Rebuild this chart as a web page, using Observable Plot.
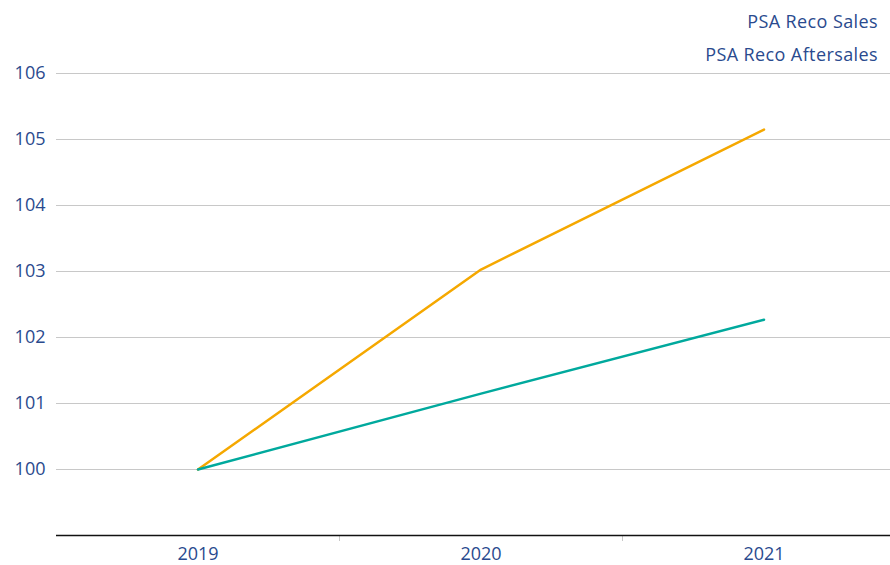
<!DOCTYPE html>
<html>
<head>
<meta charset="utf-8">
<script src="https://cdn.jsdelivr.net/npm/d3@7"></script>
<script src="https://cdn.jsdelivr.net/npm/@observablehq/plot@0.6"></script>
<style>
  html, body { margin: 0; padding: 0; background: #fff; overflow: hidden; }
  #wrap { position: relative; width: 890px; height: 565px; }
  #legend { position: absolute; right: 12px; top: 5px; text-align: right;
    font-family: "Open Sans", sans-serif; font-size: 18px; font-weight: 500; letter-spacing: 0.4px;
    color: #2a4a8e; line-height: 33px; }
</style>
</head>
<body>
<div id="wrap">
  <div id="chart"></div>
  <div id="legend"></div>
</div>
<script>
const years = [2019, 2020, 2021];
const salesValues = [100, 103.03, 105.15];
const aftersalesValues = [100, 101.15, 102.27];
const seriesNames = ["PSA Reco Sales", "PSA Reco Aftersales"];
const seriesColors = ["#f5a800", "#00a99d"];
const yTicks = [100, 101, 102, 103, 104, 105, 106];
const bandEdges = [2019.5, 2020.5];

const data = [
  ...years.map((y, i) => ({year: y, value: salesValues[i], series: seriesNames[0]})),
  ...years.map((y, i) => ({year: y, value: aftersalesValues[i], series: seriesNames[1]}))
];

const textColor = "#2a4a8e";
const chart = Plot.plot({
  width: 890,
  height: 565,
  marginTop: 73,
  marginBottom: 30,
  marginLeft: 56,
  marginRight: 0,
  style: {fontFamily: "Open Sans, sans-serif", fontSize: "18px", fontWeight: 500, background: "white", overflow: "hidden"},
  x: {domain: [2018.5, 2021.5], range: [56, 905], label: null},
  y: {domain: [99, 106], range: [535, 73], label: null},
  color: {domain: seriesNames, range: seriesColors},
  marks: [
    Plot.ruleY(yTicks, {stroke: "#c8c8c8", strokeWidth: 1.2}),
    Plot.axisY({ticks: yTicks, tickSize: 0, tickPadding: 11, tickFormat: d3.format("d"), fill: textColor, fontSize: 18, label: null}),
    Plot.axisX({ticks: bandEdges, tickSize: 6, tickFormat: () => "", stroke: "#c8c8c8", label: null}),
    Plot.axisX({ticks: years, tickSize: 0, tickPadding: 12, tickFormat: d3.format("d"), fill: textColor, fontSize: 18, label: null}),
    Plot.ruleY([99], {stroke: "#111", strokeWidth: 1.5}),
    Plot.line(data, {x: "year", y: "value", stroke: "series", strokeWidth: 2.5})
  ]
});
document.getElementById("chart").appendChild(chart);
document.getElementById("legend").innerHTML = seriesNames.map(n => `<div>${n}</div>`).join("");
</script>
</body>
</html>
